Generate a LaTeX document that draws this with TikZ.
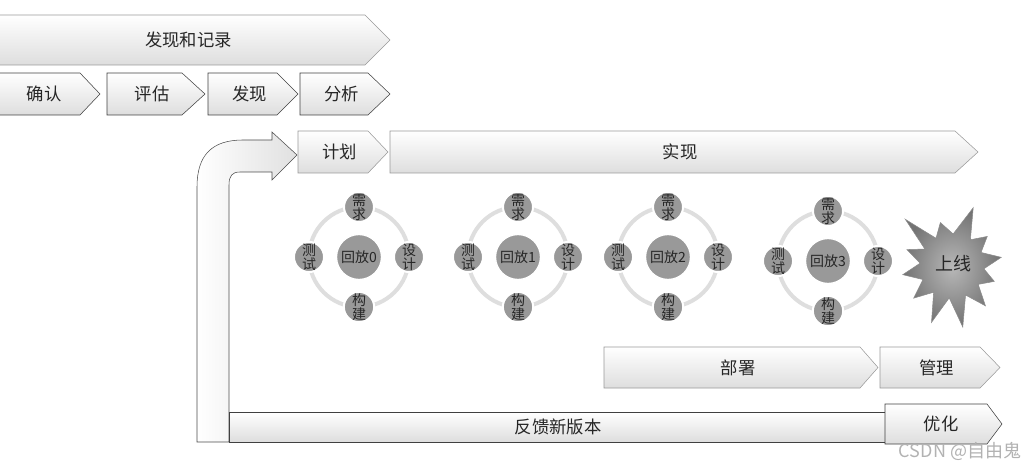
\documentclass[tikz,border=0pt]{standalone}
\usepackage{fontspec}
\setmainfont{Noto Sans CJK SC}
\usetikzlibrary{positioning}

\tikzset{
  chevbox/.style={draw=black!40, top color=white, bottom color=black!13},
  darkbox/.style={draw=black!75},
  chevtext/.style={text=black!85, font=\fontsize{13}{15}\selectfont},
  ring/.style={draw=black!13, line width=3pt},
  hub/.style={circle, fill=black!40, draw=white, line width=1pt, minimum size=33.75pt,
    inner sep=0pt, text=black!85, font=\fontsize{10.5}{12}\selectfont},
  spoke/.style={circle, fill=black!40, draw=white, line width=1.5pt, minimum size=22.5pt,
    inner sep=0pt, align=center, text=black!85, font=\fontsize{10.5}{10.5}\selectfont},
  starfill/.style={draw=black!45, inner color=black!28, outer color=black!55},
}

% chevron: [extra style]{name}{left}{top}{body end}{tip}{bottom}{text}
\newcommand{\chev}[8][]{%
  \draw[chevbox,#1] (#3,#4) -- (#5,#4) -- (#6,{(#4+#7)/2}) -- (#5,#7) -- (#3,#7) -- cycle;
  \node[chevtext] (#2) at ({(#3+#5)/2+(#6-#5)/3},{(#4+#7)/2}) {#8};
}

\begin{document}
\begin{tikzpicture}[x=0.75pt, y=-0.75pt]
\useasboundingbox (0,0) rectangle (1030,466);

% discovery
\chev{record}{-5}{15}{365}{390}{65}{发现和记录}
\chev[darkbox]{confirm}{-5}{73}{80}{100}{115}{确认}
\chev[darkbox]{assess}{107}{73}{182}{205}{115}{评估}
\chev[darkbox]{discover}{208}{73}{277}{298}{115}{发现}
\chev[darkbox]{analyse}{300}{73}{368}{390}{115}{分析}

% feedback arrow
\draw[draw=black!70, left color=white, right color=black!12]
  (197,442) -- (197,187) .. controls (197,155) and (212,140) .. (243,140)
  -- (272,140) -- (272,132) -- (297,155) -- (272,180) -- (272,172) -- (240,172)
  .. controls (232,172) and (229,176) .. (229,185) -- (229,442) -- cycle;
\draw[chevbox,darkbox] (229,412) rectangle (890,442);
\node[chevtext] (feedback) at (558,427) {反馈新版本};
\chev[darkbox]{optimise}{885}{404}{987}{1002}{444}{优化}

% build
\chev{plan}{298}{131}{368}{388}{173}{计划}
\chev{realise}{390}{131}{955}{978}{173}{实现}

% iterations
\foreach \i/\x/\y in {0/359/257, 1/518/257, 2/668/257, 3/828/261} {
  \draw[ring] (\x,\y) circle[radius=37.5pt];
  \node[hub] (h\i) at (\x,\y) {回放\i};
  \node[spoke] (req\i) at ([yshift=37.5pt]h\i) {需\\求};
  \node[spoke] (des\i) at ([xshift=37.5pt]h\i) {设\\计};
  \node[spoke] (bld\i) at ([yshift=-37.5pt]h\i) {构\\建};
  \node[spoke] (tst\i) at ([xshift=-37.5pt]h\i) {测\\试};
}

% go live
\draw[starfill] ([shift={(952,266)}]290:62)
  \foreach \a/\r in {305/32, 320/46, 335/32, 350/50, 5/32, 20/45, 35/32, 50/52, 65/32,
    80/62, 95/32, 110/60, 125/32, 140/50, 155/32, 170/50, 185/32, 200/48, 212/32,
    225/66, 240/32, 255/45, 272/32} {-- ([shift={(952,266)}]\a:\r)} -- cycle;
\node[chevtext, font=\fontsize{13.5}{15}\selectfont] (golive) at (953,264) {上线};

% deploy
\chev{deploy}{604}{347}{860}{878}{388}{部署}
\chev{manage}{880}{347}{980}{1000}{388}{管理}

\node[text=black!30, font=\fontsize{13.5}{15}\selectfont] (mark) at (960,451) {CSDN @自由鬼};
\end{tikzpicture}
\end{document}
